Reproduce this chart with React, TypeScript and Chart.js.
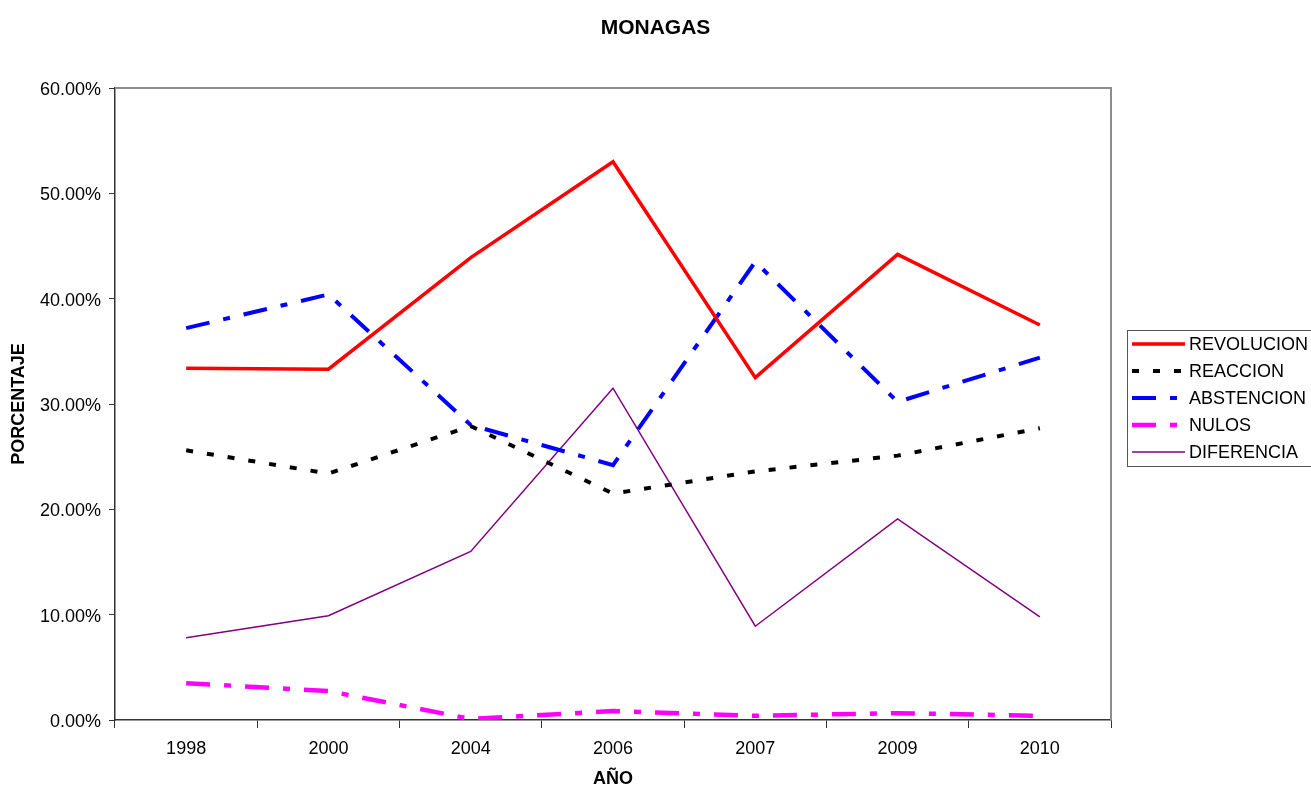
import React, { useEffect, useRef } from "react";
import { Chart, registerables } from "chart.js";

Chart.register(...registerables);

const years = ["1998", "2000", "2004", "2006", "2007", "2009", "2010"];
const revolucion = [33.4, 33.3, 43.9, 53.0, 32.5, 44.2, 37.5];
const reaccion = [25.6, 23.4, 27.9, 21.5, 23.6, 25.1, 27.7];
const abstencion = [37.2, 40.4, 28.0, 24.2, 43.5, 30.2, 34.4];
const nulos = [3.5, 2.75, 0.1, 0.85, 0.4, 0.65, 0.4];
const diferencia = [7.8, 9.9, 16.0, 31.5, 8.9, 19.1, 9.8];

const FONT = "'Liberation Sans', Arial, sans-serif";

const seriesDefs = [
  { label: "REVOLUCION", data: revolucion, color: "#FF0000", width: 3.5, dash: [] as number[] },
  { label: "REACCION", data: reaccion, color: "#000000", width: 4, dash: [7, 14] },
  { label: "ABSTENCION", data: abstencion, color: "#0000FF", width: 4, dash: [24, 14, 7, 14] },
  { label: "NULOS", data: nulos, color: "#FF00FF", width: 4.5, dash: [24, 14, 7, 14] },
  { label: "DIFERENCIA", data: diferencia, color: "#800080", width: 1.5, dash: [] as number[] },
];

const decorPlugin = {
  id: "decor",
  beforeDatasetsDraw(chart: any) {
    const { ctx, chartArea } = chart;
    ctx.save();
    ctx.strokeStyle = "#8c8c8c";
    ctx.lineWidth = 2;
    ctx.beginPath();
    ctx.moveTo(chartArea.left, chartArea.top);
    ctx.lineTo(chartArea.right, chartArea.top);
    ctx.lineTo(chartArea.right, chartArea.bottom);
    ctx.stroke();
    ctx.restore();
  },
  afterDraw(chart: any) {
    const { ctx, chartArea } = chart;
    ctx.save();
    ctx.fillStyle = "#000";
    // Title
    ctx.font = `bold 21px ${FONT}`;
    ctx.textAlign = "center";
    ctx.textBaseline = "middle";
    ctx.fillText("MONAGAS", 655.5, 28);
    // X title
    ctx.font = `bold 18px ${FONT}`;
    ctx.fillText("AÑO", (chartArea.left + chartArea.right) / 2, 779);
    // Y title
    ctx.save();
    ctx.translate(19.5, (chartArea.top + chartArea.bottom) / 2);
    ctx.rotate(-Math.PI / 2);
    ctx.fillText("PORCENTAJE", 0, 0);
    ctx.restore();

    // Legend
    const lx = 1127;
    const ly = 330;
    ctx.fillStyle = "#fff";
    ctx.fillRect(lx, ly, 200, 136);
    ctx.strokeStyle = "#555";
    ctx.lineWidth = 1;
    ctx.strokeRect(lx + 0.5, ly + 0.5, 200, 136);
    ctx.font = `18px ${FONT}`;
    ctx.textAlign = "left";
    ctx.textBaseline = "middle";
    const rows = [344, 371, 398, 425, 452];
    seriesDefs.forEach((s, i) => {
      const y = rows[i];
      ctx.strokeStyle = s.color;
      ctx.lineWidth = s.width;
      ctx.setLineDash(s.dash);
      ctx.beginPath();
      ctx.moveTo(1132, y);
      ctx.lineTo(1185, y);
      ctx.stroke();
      ctx.setLineDash([]);
      ctx.fillStyle = "#000";
      ctx.fillText(s.label, 1189, y + 1);
    });
    ctx.restore();
  },
};

export default function App() {
  const ref = useRef<HTMLCanvasElement | null>(null);

  useEffect(() => {
    if (!ref.current) return;
    const chart = new Chart(ref.current, {
      type: "line",
      data: {
        labels: years,
        datasets: seriesDefs.map((s) => ({
          label: s.label,
          data: s.data,
          borderColor: s.color,
          backgroundColor: s.color,
          borderWidth: s.width,
          borderDash: s.dash,
          pointRadius: 0,
          tension: 0,
          fill: false,
        })),
      },
      options: {
        responsive: false,
        animation: false,
        layout: { padding: { top: 88, right: 200, left: 0, bottom: 0 } },
        plugins: {
          legend: { display: false },
          title: { display: false },
          tooltip: { enabled: false },
        },
        scales: {
          x: {
            offset: true,
            grid: {
              offset: true,
              drawOnChartArea: false,
              drawTicks: true,
              tickLength: 8,
              color: "#333",
              lineWidth: 1,
            },
            border: { display: true, color: "#333", width: 1.5 },
            ticks: {
              color: "#000",
              font: { family: FONT, size: 18 },
              padding: 10,
              maxRotation: 0,
              autoSkip: false,
            },
            afterFit(scale: any) {
              scale.height = 65;
            },
          },
          y: {
            min: 0,
            max: 60,
            grid: {
              drawOnChartArea: false,
              drawTicks: true,
              tickLength: 6,
              color: "#333",
              lineWidth: 1,
            },
            border: { display: true, color: "#333", width: 1.5 },
            ticks: {
              stepSize: 10,
              color: "#000",
              font: { family: FONT, size: 18 },
              padding: 8,
              labelOffset: 2,
              callback: (v: any) => Number(v).toFixed(2) + "%",
            },
            afterFit(scale: any) {
              scale.width = 115;
            },
          },
        },
      },
      plugins: [decorPlugin],
    });
    return () => chart.destroy();
  }, []);

  return (
    <div style={{ position: "fixed", left: 0, top: 0, width: 1311, height: 785, background: "#fff" }}>
      <canvas ref={ref} width={1311} height={785} style={{ width: 1311, height: 785, display: "block" }} />
    </div>
  );
}
